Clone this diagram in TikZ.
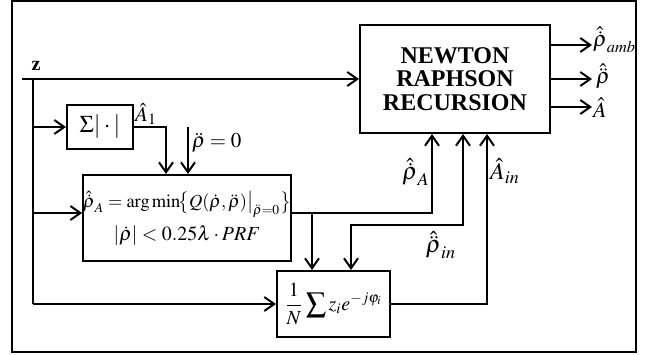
\documentclass[tikz,border=0pt]{standalone}
\usepackage{mathptmx}
\usepackage[no-math]{fontspec}
\setmainfont{Liberation Serif}
\usetikzlibrary{arrows.meta}
\begin{document}
\begin{tikzpicture}[x=0.5pt,y=-0.5pt, line width=1pt,
  arr/.style={-{Straight Barb[length=5pt,width=7pt]}},
  arrboth/.style={{Straight Barb[length=5pt,width=7pt]}-{Straight Barb[length=5pt,width=7pt]}},
  box/.style={draw, line width=1pt, inner sep=0pt, font=\fontsize{10}{12}\selectfont},
  lbl/.style={inner sep=0pt, font=\fontsize{12}{14}\selectfont},
  olbl/.style={inner sep=0pt, anchor=west, font=\fontsize{11}{13}\selectfont},
  slbl/.style={inner sep=0pt, font=\fontsize{10.5}{12}\selectfont}]
\useasboundingbox (0,0) rectangle (652,354);
\draw (12,1) rectangle (636,352);
% blocks
\node[box, minimum width=95pt, minimum height=54pt, align=center, font=\fontsize{12}{11.7}\selectfont\bfseries] (nr) at (455,79) {NEWTON\\RAPHSON\\RECURSION};
\node[box, minimum width=33pt, minimum height=22pt, font=\fontsize{12}{14}\selectfont] (sig) at (100,127) {$\Sigma|\cdot|$};
\node[box, minimum width=100pt, minimum height=43pt, align=center] (am) at (187,218)
  {{\fontsize{9.2}{11}\selectfont$\hat{\dot\rho}_{A}=\arg\min\!\bigl\{Q(\dot\rho,\ddot\rho)\big|_{\ddot\rho=0}\bigr\}$}\\[3pt]
   $\left|\dot\rho\right|<0.25\lambda\cdot PRF$};
\node[box, minimum width=56.5pt, minimum height=33pt] (sum) at (333.5,304) {$\displaystyle\frac{1}{N}\sum z_i e^{-j\varphi_i}$};
% coordinates
\coordinate (zin) at (22,79);
\coordinate (tt) at (33,79);
\coordinate (tb) at (33,304);
\coordinate (amin) at (33,213);
\coordinate (a1) at (166,127);
\coordinate (r0) at (188,127);
\coordinate (br) at (312,213);
\coordinate (v1) at (432,213);
\coordinate (v2) at (463,225);
\coordinate (v2b) at (351,225);
\coordinate (v3) at (487,304);
\coordinate (out1) at (592,45);
\coordinate (out2) at (592,79);
\coordinate (out3) at (592,107);
% connectors
\draw[arr] (zin) -- (zin -| nr.west);
\draw (tt) -- (tb);
\draw[arr] (tt |- sig.west) -- (sig.west);
\draw[arr] (amin) -- (amin -| am.west);
\draw[arr] (tb) -- (sum.west);
\draw[arr] (sig.east) -| (a1 |- am.north);
\draw[arr] (r0) -- (r0 |- am.north);
\draw[arr] (am.east |- amin) -| (v1 |- nr.south);
\draw[arr] (br) -- (br |- sum.north);
\draw[arrboth] (v2 |- nr.south) -- (v2) -- (v2b) -- (v2b |- sum.north);
\draw[arr] (sum.east) -| (v3 |- nr.south);
\draw[arr] (nr.east |- out1) -- (out1);
\draw[arr] (nr.east |- out2) -- (out2);
\draw[arr] (nr.east |- out3) -- (out3);
% labels
\node[inner sep=0pt, font=\fontsize{10}{12}\selectfont\bfseries] (zl) at (36,66) {z};
\node[slbl] (a1l) at (146,114) {$\hat A_1$};
\node[slbl, anchor=west] (r0l) at (191,143) {$\ddot\rho = 0$};
\node[lbl] (rAl) at (416,172) {$\hat{\dot\rho}_{A}$};
\node[lbl] (ril) at (441,245) {$\hat{\ddot\rho}_{in}$};
\node[lbl] (ail) at (505,171) {$\hat A_{in}$};
\node[olbl] (o1l) at (592,40) {$\hat{\dot\rho}_{amb}$};
\node[olbl] (o2l) at (595,76) {$\hat{\ddot\rho}$};
\node[olbl] (o3l) at (592,108) {$\hat A$};
\end{tikzpicture}
\end{document}
